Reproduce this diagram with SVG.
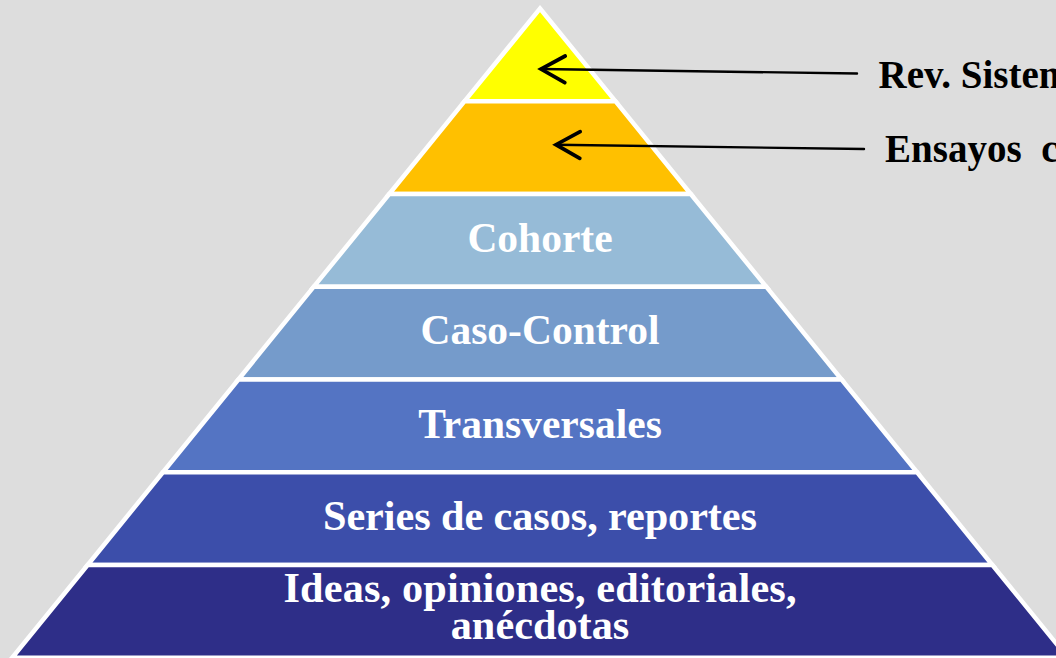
<svg xmlns="http://www.w3.org/2000/svg" width="1056" height="658" viewBox="0 0 1056 658">
<defs>
<style>
.band{stroke:#FFFFFF;stroke-width:4.5;stroke-linejoin:miter}
.lbl{font-family:"Liberation Serif","Times New Roman",serif;font-weight:bold;font-size:41.5px;fill:#FFFFFF;text-anchor:middle}
.big{font-size:42.3px}
.side{font-family:"Liberation Serif","Times New Roman",serif;font-weight:bold;font-size:39px;fill:#000000}
.arrow{fill:none;stroke:#000000;stroke-width:2.4;stroke-linecap:round}
</style>
<marker id="open" markerUnits="userSpaceOnUse" orient="auto" refX="0" refY="0" markerWidth="40" markerHeight="40" viewBox="-25 -15 30 30" overflow="visible">
<path d="M-18,-10 L0,0 L-18,10" fill="none" stroke="#000000" stroke-width="2.8" stroke-linecap="round" stroke-linejoin="miter"/>
</marker>
</defs>
<rect x="0" y="0" width="1056" height="658" fill="#DDDDDD"/>
<g id="rev-sistematicas-level">
<polygon class="band" fill="#FFFF00" points="540,8.5 615.4,101.2 464.6,101.2"/>
</g>
<g id="ensayos-level">
<polygon class="band" fill="#FFC000" points="464.6,101.2 615.4,101.2 690.8,194 389.2,194"/>
</g>
<g id="cohorte">
<polygon class="band" fill="#96BBD7" points="389.2,194 690.8,194 766.2,286.7 313.8,286.7"/>
<text class="lbl" x="540" y="251.5">Cohorte</text>
</g>
<g id="caso-control">
<polygon class="band" fill="#759BCB" points="313.8,286.7 766.2,286.7 841.6,379.5 238.4,379.5"/>
<text class="lbl" x="540" y="344">Caso-Control</text>
</g>
<g id="transversales">
<polygon class="band" fill="#5474C3" points="238.4,379.5 841.6,379.5 917.1,472.3 162.9,472.3"/>
<text class="lbl" x="540" y="437.5">Transversales</text>
</g>
<g id="series">
<polygon class="band" fill="#3C4EAA" points="162.9,472.3 917.1,472.3 992.4,565 87.6,565"/>
<text class="lbl big" x="540" y="529.5" textLength="434">Series de casos, reportes</text>
</g>
<g id="ideas">
<polygon class="band" fill="#2E2E88" points="87.6,565 992.4,565 1067.8,657.7 12.2,657.7"/>
<text class="lbl big" x="540" y="601.5" textLength="513">Ideas, opiniones, editoriales,</text>
<text class="lbl big" x="540" y="638.5">anécdotas</text>
</g>
<g id="connectors">
<path class="arrow" d="M857,73.5 L541,69" marker-end="url(#open)"/>
<path class="arrow" d="M864,149 L556,144.7" marker-end="url(#open)"/>
</g>
<g id="side-labels">
<text class="side" x="878.5" y="87.7">Rev. Sistemáticas</text>
<text class="side" x="885" y="161.7" word-spacing="10">Ensayos clínicos</text>
</g>
</svg>
